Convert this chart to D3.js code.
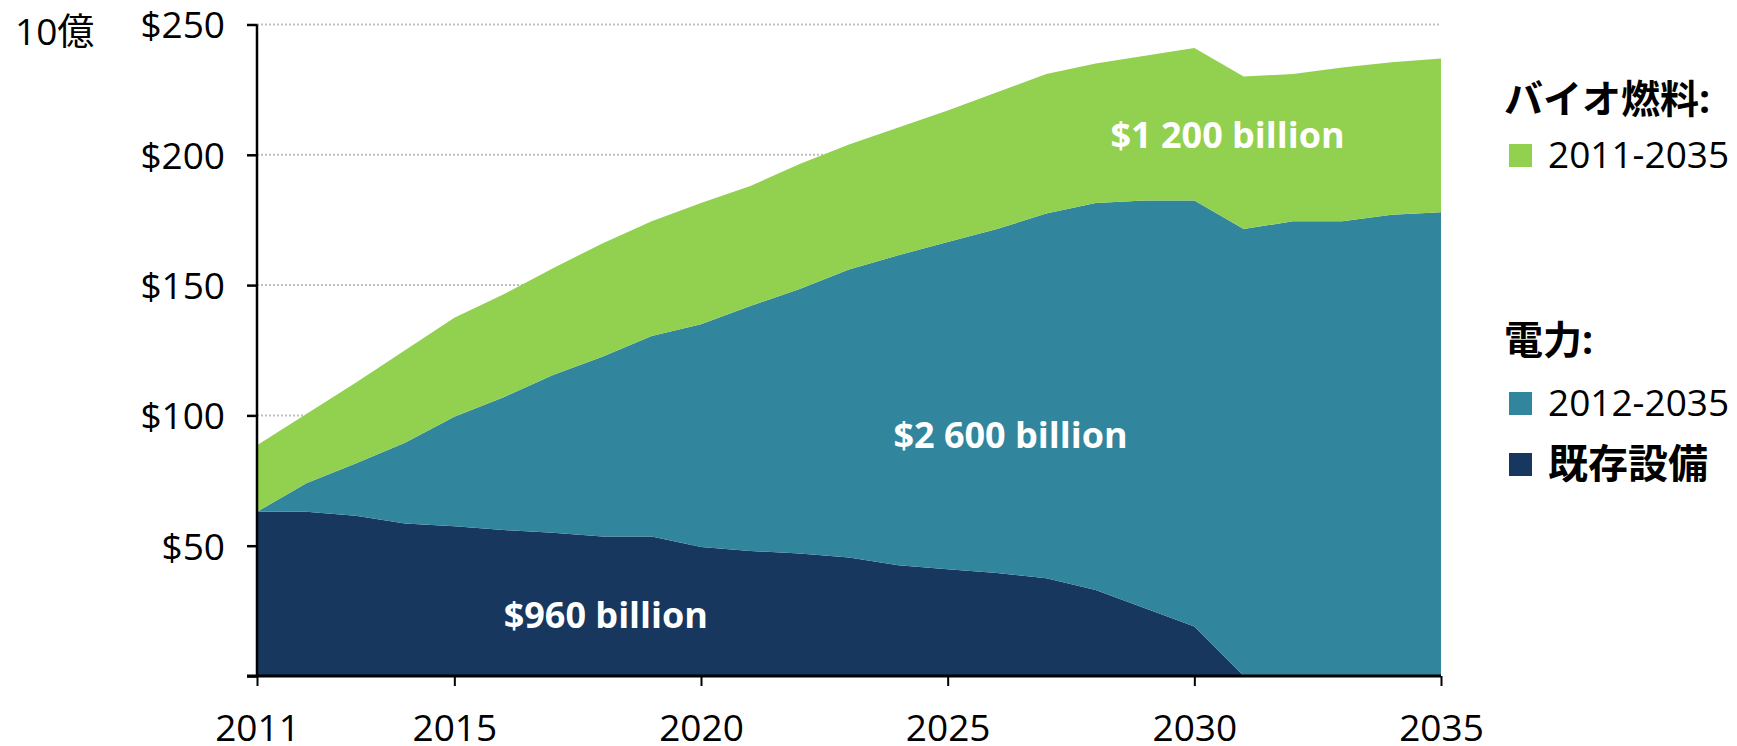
<!DOCTYPE html>
<html>
<head>
<meta charset="utf-8" />
<title>Investment</title>
<script src="https://cdn.jsdelivr.net/npm/d3@7"></script>
<style>
  body { margin: 0; background: #fff; }
  text { font-family: "Open Sans", "Noto Sans CJK JP", sans-serif; }
</style>
</head>
<body>
<div id="chart"></div>
<script>
// years along the x axis
var years = [2011, 2012, 2013, 2014, 2015, 2016, 2017, 2018, 2019, 2020, 2021, 2022, 2023,
             2024, 2025, 2026, 2027, 2028, 2029, 2030, 2031, 2032, 2033, 2034, 2035];
// billions of dollars, stacked bottom to top
var existing = [63, 63, 61.5, 58.5, 57.5, 56, 55, 53.5, 53.5, 49.5, 48, 47, 45.5,
                42.5, 41, 39.5, 37.5, 33, 26, 19, 0, 0, 0, 0, 0];
var newPower = [0, 11, 20, 31, 42, 51, 60.5, 69, 77, 85.5, 94, 101.5, 110.5,
                119, 125.5, 132, 140, 148.5, 156.5, 163.5, 171.5, 174.5, 174.5, 177, 178];
var biofuel  = [25.5, 26.5, 31, 35.5, 38, 39.5, 41, 43.5, 44, 46.5, 46, 48, 48,
                49, 50.5, 52.5, 53.5, 53.5, 55.5, 58.5, 58.5, 56.5, 59, 58.5, 59];
var yTicks = [0, 50, 100, 150, 200, 250];
var xTicks = [2011, 2015, 2020, 2025, 2030, 2035];
var areaLabels = ["$960 billion", "$2 600 billion", "$1 200 billion"];

var W = 1737, H = 746;
var colors = { existing: "#17375E", newPower: "#31859C", biofuel: "#92D050" };

var rows = years.map(function(y, i) {
  return { year: y, existing: existing[i], newPower: newPower[i], biofuel: biofuel[i] };
});

var x = d3.scaleLinear().domain([2011, 2035]).range([257, 1441]);
var y = d3.scaleLinear().domain([0, 250]).range([676, 24.5]);

var svg = d3.select("#chart").append("svg")
    .attr("width", W).attr("height", H);

// dotted grid
svg.append("g").selectAll("line")
    .data(yTicks.slice(1))
    .enter().append("line")
    .attr("x1", x(2011)).attr("x2", x(2035))
    .attr("y1", function(d) { return y(d); })
    .attr("y2", function(d) { return y(d); })
    .attr("stroke", "#bfbfbf")
    .attr("stroke-width", 2)
    .attr("stroke-dasharray", "2,2");

var stack = d3.stack().keys(["existing", "newPower", "biofuel"]);
var series = stack(rows);

var area = d3.area()
    .x(function(d) { return x(d.data.year); })
    .y0(function(d) { return y(d[0]); })
    .y1(function(d) { return y(d[1]); });

svg.append("g").selectAll("path")
    .data(series)
    .enter().append("path")
    .attr("d", area)
    .attr("fill", function(d) { return colors[d.key]; });

// axes
var yAxis = d3.axisLeft(y).tickValues(yTicks).tickSize(10)
    .tickFormat(function(d) { return d === 0 ? "" : "$" + d; });
var gy = svg.append("g").attr("transform", "translate(" + x(2011) + ",0)").call(yAxis);
gy.select(".domain").attr("stroke", "#000").attr("stroke-width", 2.5)
    .attr("d", "M0," + y(250) + "V" + y(0));
gy.selectAll(".tick line").attr("stroke", "#000").attr("stroke-width", 2.5);
gy.selectAll(".tick text").attr("x", -32).attr("dy", "0.36em")
    .style("font-size", "37px").attr("fill", "#000");

var xAxis = d3.axisBottom(x).tickValues(xTicks).tickSize(10).tickFormat(d3.format("d"));
var gx = svg.append("g").attr("transform", "translate(0," + y(0) + ")").call(xAxis);
gx.select(".domain").attr("stroke", "#000").attr("stroke-width", 3)
    .attr("d", "M" + (x(2011) - 10) + ",0H" + x(2035));
gx.selectAll(".tick line").attr("stroke", "#000").attr("stroke-width", 2);
gx.selectAll(".tick text").attr("y", 39).attr("dy", "0.71em")
    .style("font-size", "37px").attr("fill", "#000");

svg.append("text").text("10億")
    .attr("x", 15).attr("y", 45)
    .style("font-size", "37px");

// labels inside areas
var labelPos = [[2016, 23.5], [2023.9, 92.5], [2028.3, 207.5]];
svg.append("g").selectAll("text")
    .data(areaLabels)
    .enter().append("text")
    .text(function(d) { return d; })
    .attr("x", function(d, i) { return x(labelPos[i][0]); })
    .attr("y", function(d, i) { return y(labelPos[i][1]); })
    .attr("dy", "0.36em")
    .attr("fill", "#fff")
    .style("font-size", "36px")
    .style("font-weight", "bold");

// legend
var legend = svg.append("g");
legend.append("text").text("バイオ燃料:")
    .attr("x", 1504).attr("y", 113)
    .style("font-size", "39px").style("font-weight", "bold");
legend.append("text").text("電力:")
    .attr("x", 1504).attr("y", 354)
    .style("font-size", "39px").style("font-weight", "bold");

var legendItems = [
  { key: "biofuel", label: "2011-2035", y: 155, bold: false },
  { key: "newPower", label: "2012-2035", y: 403, bold: false },
  { key: "existing", label: "既存設備", y: 464, bold: true }
];
legend.selectAll("rect")
    .data(legendItems)
    .enter().append("rect")
    .attr("x", 1509).attr("y", function(d) { return d.y - 11; })
    .attr("width", 23).attr("height", 23)
    .attr("fill", function(d) { return colors[d.key]; });
legend.selectAll("text.item")
    .data(legendItems)
    .enter().append("text")
    .attr("class", "item")
    .text(function(d) { return d.label; })
    .attr("x", 1548).attr("y", function(d) { return d.y; })
    .attr("dy", "0.36em")
    .style("font-size", function(d) { return d.bold ? "40px" : "37px"; })
    .style("font-weight", function(d) { return d.bold ? "bold" : "normal"; });
</script>
</body>
</html>
